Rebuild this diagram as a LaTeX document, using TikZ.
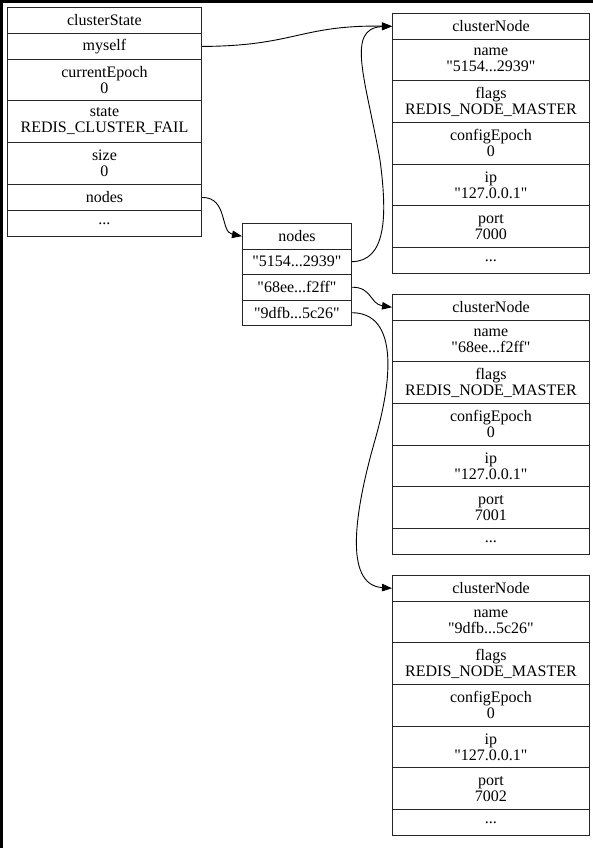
\documentclass[tikz,border=0pt]{standalone}
\usepackage{fontspec}
\setmainfont{Liberation Serif}[Ligatures=TeXOff]
\usetikzlibrary{arrows.meta}
\tikzset{
  cell/.style={draw=black!85, line width=0.9pt, anchor=north west, inner sep=0pt,
    align=center, font=\fontsize{16}{16}\selectfont},
  link/.style={black, line width=0.9pt, -{Triangle[length=10pt,width=7.5pt]}},
}
\newcommand\cnbox[4]{%
  \node[cell, minimum width=197pt, minimum height=25.6pt] (#1h) at (392,#2) {clusterNode};
  \node[cell, minimum width=197pt, minimum height=41.7pt] (#11) at (392,{#2+25.6}) {name\\"#3"};
  \node[cell, minimum width=197pt, minimum height=41.7pt] (#12) at (392,{#2+67.3}) {flags\\REDIS\_NODE\_MASTER};
  \node[cell, minimum width=197pt, minimum height=41.7pt] (#13) at (392,{#2+109}) {configEpoch\\0};
  \node[cell, minimum width=197pt, minimum height=41.7pt] (#14) at (392,{#2+150.7}) {ip\\"127.0.0.1"};
  \node[cell, minimum width=197pt, minimum height=41.7pt] (#15) at (392,{#2+192.4}) {port\\#4};
  \node[cell, minimum width=197pt, minimum height=26pt] (#16) at (392,{#2+234.1}) {...};
}
\begin{document}
\begin{tikzpicture}[x=1pt, y=-1pt]
\useasboundingbox (0,0) rectangle (593,848);
\fill[black] (0,0) rectangle (593,848);
\fill[white] (3,3) rectangle (593,848);

% clusterState
\node[cell, minimum width=194pt, minimum height=26pt] (cs0) at (7,7) {clusterState};
\node[cell, minimum width=194pt, minimum height=26pt] (cs1) at (7,33) {myself};
\node[cell, minimum width=194pt, minimum height=41pt] (cs2) at (7,59) {currentEpoch\\0};
\node[cell, minimum width=194pt, minimum height=42pt] (cs3) at (7,100) {state\\REDIS\_CLUSTER\_FAIL};
\node[cell, minimum width=194pt, minimum height=42pt] (cs4) at (7,142) {size\\0};
\node[cell, minimum width=194pt, minimum height=26pt] (cs5) at (7,184) {nodes};
\node[cell, minimum width=194pt, minimum height=26pt] (cs6) at (7,210) {...};

% nodes dict
\node[cell, minimum width=109pt, minimum height=25.5pt] (nd0) at (242,223) {nodes};
\node[cell, minimum width=109pt, minimum height=25.5pt] (nd1) at (242,248.5) {"5154...2939"};
\node[cell, minimum width=109pt, minimum height=25.5pt] (nd2) at (242,274) {"68ee...f2ff"};
\node[cell, minimum width=109pt, minimum height=25.5pt] (nd3) at (242,299.5) {"9dfb...5c26"};

% cluster nodes
\cnbox{cnA}{13}{5154...2939}{7000}
\cnbox{cnB}{294}{68ee...f2ff}{7001}
\cnbox{cnC}{575}{9dfb...5c26}{7002}

% connectors
\draw[link] (cs1.east) .. controls (295,46) and (300,25) .. (cnAh.west);
\draw[link] (cs5.east) .. controls (228,197) and (220,232) .. (nd0.west);
\draw[link] (nd1.east) .. controls (385,261) and (388,220) .. (380,160)
  .. controls (366,80) and (345,28) .. (cnAh.west);
\draw[link] (nd2.east) .. controls (372,287) and (370,304) .. (cnBh.west);
\draw[link] (nd3.east) .. controls (395,313) and (395,370) .. (375,440)
  .. controls (355,510) and (343,585) .. (cnCh.west);
\end{tikzpicture}
\end{document}
